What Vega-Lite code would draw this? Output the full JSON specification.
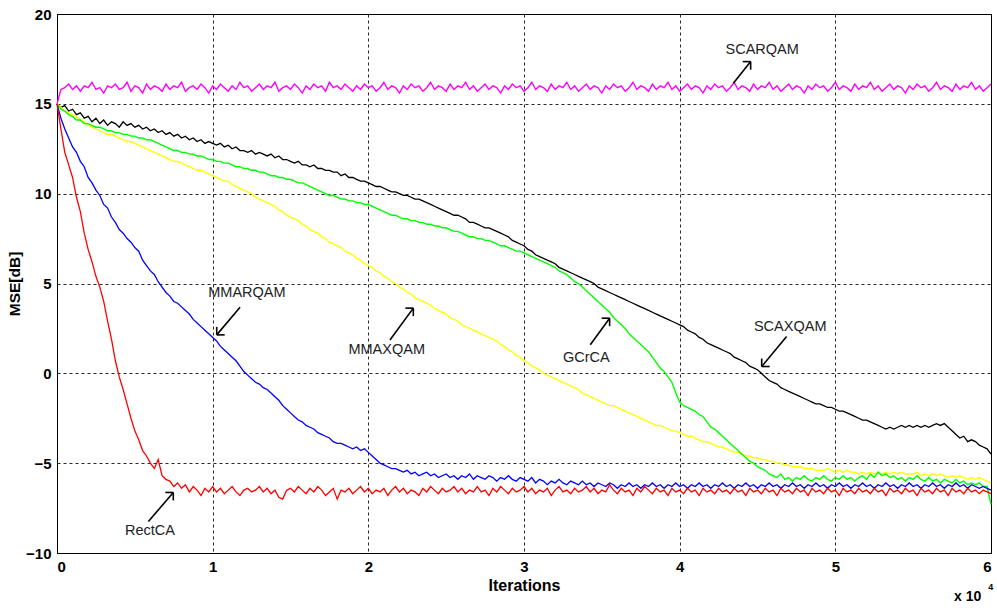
{
  "$schema": "https://vega.github.io/schema/vega-lite/v6.json",
  "width": 934,
  "height": 539,
  "autosize": {"type": "none"},
  "padding": {"left": 57, "top": 14, "right": 6, "bottom": 57},
  "background": "white",
  "config": {
    "font": "Liberation Sans",
    "view": {"stroke": "black", "strokeWidth": 1},
    "axis": {
      "grid": true,
      "gridColor": "#000000",
      "gridDash": [3, 3],
      "gridOpacity": 0.85,
      "gridWidth": 1,
      "domainColor": "#000000",
      "domainWidth": 1,
      "tickSize": 0,
      "labelFont": "Liberation Sans",
      "labelFontSize": 15,
      "labelFontWeight": "bold",
      "labelColor": "#000000",
      "titleFont": "Liberation Sans",
      "titleFontSize": 15.5,
      "titleFontWeight": "bold",
      "titleColor": "#000000"
    }
  },
  "datasets": {
    "curves": [
{"x":0,"m":15.0,"k":15.0,"y":15.0,"g":15.0,"b":15.0,"r":15.0},
{"x":0.025,"m":15.8,"k":14.8,"y":14.8,"g":14.7,"b":14.2,"r":13.6},
{"x":0.05,"m":15.9,"k":14.9,"y":14.6,"g":14.6,"b":13.6,"r":12.3},
{"x":0.075,"m":16.1,"k":14.6,"y":14.5,"g":14.4,"b":13.1,"r":11.6},
{"x":0.1,"m":15.8,"k":14.7,"y":14.4,"g":14.3,"b":12.6,"r":10.9},
{"x":0.125,"m":16.0,"k":14.4,"y":14.3,"g":14.1,"b":12.3,"r":9.8},
{"x":0.15,"m":15.7,"k":14.5,"y":14.1,"g":14.1,"b":11.8,"r":9.0},
{"x":0.175,"m":16.0,"k":14.2,"y":14.0,"g":13.9,"b":11.5,"r":7.8},
{"x":0.2,"m":15.9,"k":14.3,"y":13.8,"g":13.9,"b":10.9,"r":6.9},
{"x":0.225,"m":16.2,"k":14.0,"y":13.7,"g":13.8,"b":10.6,"r":6.2},
{"x":0.25,"m":15.8,"k":14.2,"y":13.6,"g":13.7,"b":10.2,"r":5.4},
{"x":0.275,"m":15.9,"k":13.9,"y":13.5,"g":13.7,"b":9.9,"r":4.8},
{"x":0.3,"m":15.6,"k":14.1,"y":13.4,"g":13.6,"b":9.4,"r":4.0},
{"x":0.325,"m":16.0,"k":13.8,"y":13.3,"g":13.5,"b":9.2,"r":2.9},
{"x":0.35,"m":15.9,"k":14.0,"y":13.3,"g":13.5,"b":8.7,"r":1.9},
{"x":0.375,"m":16.1,"k":13.9,"y":13.2,"g":13.4,"b":8.4,"r":0.7},
{"x":0.4,"m":15.8,"k":13.7,"y":13.1,"g":13.4,"b":8.0,"r":-0.2},
{"x":0.425,"m":15.9,"k":14.0,"y":13.0,"g":13.3,"b":7.8,"r":-0.9},
{"x":0.45,"m":16.2,"k":13.8,"y":12.9,"g":13.3,"b":7.5,"r":-1.7},
{"x":0.475,"m":15.7,"k":13.9,"y":12.9,"g":13.2,"b":7.3,"r":-2.5},
{"x":0.5,"m":16.0,"k":13.7,"y":12.8,"g":13.2,"b":7.0,"r":-3.2},
{"x":0.525,"m":15.9,"k":13.8,"y":12.7,"g":13.1,"b":6.8,"r":-3.7},
{"x":0.55,"m":15.6,"k":13.6,"y":12.6,"g":13.1,"b":6.3,"r":-4.3},
{"x":0.575,"m":16.1,"k":13.7,"y":12.5,"g":13.0,"b":6.0,"r":-4.6},
{"x":0.6,"m":15.8,"k":13.5,"y":12.4,"g":13.0,"b":5.7,"r":-5.0},
{"x":0.625,"m":16.0,"k":13.6,"y":12.3,"g":12.9,"b":5.5,"r":-5.3},
{"x":0.65,"m":15.9,"k":13.4,"y":12.2,"g":12.8,"b":5.1,"r":-4.8},
{"x":0.675,"m":15.7,"k":13.5,"y":12.1,"g":12.7,"b":4.8,"r":-5.7},
{"x":0.7,"m":16.1,"k":13.3,"y":12.0,"g":12.6,"b":4.5,"r":-5.9},
{"x":0.725,"m":15.8,"k":13.4,"y":11.9,"g":12.5,"b":4.3,"r":-6.0},
{"x":0.75,"m":16.0,"k":13.2,"y":11.8,"g":12.4,"b":4.0,"r":-6.3},
{"x":0.775,"m":15.9,"k":13.3,"y":11.8,"g":12.4,"b":3.9,"r":-6.1},
{"x":0.8,"m":16.2,"k":13.1,"y":11.7,"g":12.3,"b":3.7,"r":-6.4},
{"x":0.825,"m":15.7,"k":13.2,"y":11.6,"g":12.3,"b":3.5,"r":-6.2},
{"x":0.85,"m":15.9,"k":13.0,"y":11.5,"g":12.2,"b":3.3,"r":-6.6},
{"x":0.875,"m":16.0,"k":13.1,"y":11.4,"g":12.2,"b":3.0,"r":-6.3},
{"x":0.9,"m":15.8,"k":12.9,"y":11.3,"g":12.1,"b":2.8,"r":-6.5},
{"x":0.925,"m":16.1,"k":13.0,"y":11.3,"g":12.1,"b":2.6,"r":-6.8},
{"x":0.95,"m":15.9,"k":12.8,"y":11.2,"g":12.0,"b":2.4,"r":-6.4},
{"x":0.975,"m":15.6,"k":12.9,"y":11.1,"g":11.9,"b":2.2,"r":-6.6},
{"x":1.0,"m":16.0,"k":12.8,"y":11.0,"g":11.9,"b":2.0,"r":-6.3},
{"x":1.025,"m":15.8,"k":12.7,"y":10.9,"g":11.8,"b":1.8,"r":-6.6},
{"x":1.05,"m":16.1,"k":12.8,"y":10.8,"g":11.8,"b":1.5,"r":-6.4},
{"x":1.075,"m":15.9,"k":12.6,"y":10.7,"g":11.7,"b":1.3,"r":-6.7},
{"x":1.1,"m":15.7,"k":12.7,"y":10.7,"g":11.7,"b":1.1,"r":-6.5},
{"x":1.125,"m":16.0,"k":12.5,"y":10.5,"g":11.6,"b":0.9,"r":-6.3},
{"x":1.15,"m":15.8,"k":12.6,"y":10.4,"g":11.5,"b":0.7,"r":-6.6},
{"x":1.175,"m":16.2,"k":12.4,"y":10.3,"g":11.5,"b":0.4,"r":-6.8},
{"x":1.2,"m":15.9,"k":12.4,"y":10.2,"g":11.4,"b":0.1,"r":-6.5},
{"x":1.225,"m":16.0,"k":12.3,"y":10.1,"g":11.4,"b":-0.1,"r":-6.4},
{"x":1.25,"m":15.7,"k":12.4,"y":10.0,"g":11.3,"b":-0.3,"r":-6.6},
{"x":1.275,"m":15.9,"k":12.2,"y":9.8,"g":11.3,"b":-0.5,"r":-6.5},
{"x":1.3,"m":16.1,"k":12.3,"y":9.7,"g":11.2,"b":-0.6,"r":-6.3},
{"x":1.325,"m":15.8,"k":12.2,"y":9.6,"g":11.2,"b":-0.8,"r":-6.6},
{"x":1.35,"m":16.0,"k":12.1,"y":9.5,"g":11.1,"b":-0.9,"r":-6.4},
{"x":1.375,"m":15.9,"k":12.2,"y":9.4,"g":11.0,"b":-1.1,"r":-6.7},
{"x":1.4,"m":16.2,"k":12.0,"y":9.3,"g":11.0,"b":-1.3,"r":-6.5},
{"x":1.425,"m":15.7,"k":12.1,"y":9.1,"g":10.9,"b":-1.5,"r":-6.9},
{"x":1.45,"m":15.9,"k":11.9,"y":9.0,"g":10.9,"b":-1.8,"r":-7.0},
{"x":1.475,"m":16.0,"k":11.9,"y":8.8,"g":10.8,"b":-2.0,"r":-6.5},
{"x":1.5,"m":15.8,"k":11.8,"y":8.7,"g":10.8,"b":-2.2,"r":-6.4},
{"x":1.525,"m":16.1,"k":11.7,"y":8.6,"g":10.7,"b":-2.4,"r":-6.6},
{"x":1.55,"m":15.9,"k":11.8,"y":8.5,"g":10.6,"b":-2.6,"r":-6.3},
{"x":1.575,"m":15.6,"k":11.6,"y":8.3,"g":10.6,"b":-2.7,"r":-6.5},
{"x":1.6,"m":16.0,"k":11.6,"y":8.2,"g":10.5,"b":-2.9,"r":-6.7},
{"x":1.625,"m":15.8,"k":11.5,"y":8.0,"g":10.4,"b":-3.0,"r":-6.4},
{"x":1.65,"m":16.1,"k":11.6,"y":7.9,"g":10.3,"b":-3.1,"r":-6.6},
{"x":1.675,"m":15.9,"k":11.4,"y":7.8,"g":10.2,"b":-3.3,"r":-6.3},
{"x":1.7,"m":16.0,"k":11.4,"y":7.6,"g":10.1,"b":-3.4,"r":-6.5},
{"x":1.725,"m":15.7,"k":11.3,"y":7.5,"g":10.0,"b":-3.5,"r":-6.8},
{"x":1.75,"m":16.2,"k":11.3,"y":7.3,"g":9.9,"b":-3.6,"r":-6.6},
{"x":1.775,"m":15.9,"k":11.2,"y":7.2,"g":9.9,"b":-3.8,"r":-6.4},
{"x":1.8,"m":16.0,"k":11.2,"y":7.1,"g":9.8,"b":-3.9,"r":-7.0},
{"x":1.825,"m":15.8,"k":11.0,"y":7.0,"g":9.7,"b":-3.9,"r":-6.5},
{"x":1.85,"m":16.1,"k":11.1,"y":6.8,"g":9.7,"b":-4.0,"r":-6.6},
{"x":1.875,"m":15.9,"k":10.9,"y":6.7,"g":9.6,"b":-4.1,"r":-6.4},
{"x":1.9,"m":15.7,"k":10.9,"y":6.6,"g":9.6,"b":-4.2,"r":-6.7},
{"x":1.925,"m":16.0,"k":10.8,"y":6.4,"g":9.5,"b":-4.1,"r":-6.5},
{"x":1.95,"m":15.8,"k":10.7,"y":6.3,"g":9.5,"b":-4.3,"r":-6.3},
{"x":1.975,"m":16.1,"k":10.7,"y":6.1,"g":9.4,"b":-4.2,"r":-6.6},
{"x":2.0,"m":15.9,"k":10.6,"y":6.0,"g":9.4,"b":-4.4,"r":-6.4},
{"x":2.025,"m":16.0,"k":10.5,"y":5.9,"g":9.3,"b":-4.6,"r":-6.7},
{"x":2.05,"m":15.7,"k":10.4,"y":5.7,"g":9.2,"b":-4.8,"r":-6.5},
{"x":2.075,"m":15.9,"k":10.4,"y":5.6,"g":9.1,"b":-5.0,"r":-6.6},
{"x":2.1,"m":16.2,"k":10.3,"y":5.4,"g":9.0,"b":-5.1,"r":-6.4},
{"x":2.125,"m":15.8,"k":10.2,"y":5.3,"g":8.9,"b":-5.2,"r":-6.8},
{"x":2.15,"m":16.0,"k":10.1,"y":5.1,"g":8.8,"b":-5.3,"r":-6.5},
{"x":2.175,"m":15.9,"k":10.1,"y":5.0,"g":8.8,"b":-5.3,"r":-6.3},
{"x":2.2,"m":15.6,"k":10.0,"y":4.8,"g":8.7,"b":-5.4,"r":-6.6},
{"x":2.225,"m":16.0,"k":9.9,"y":4.7,"g":8.6,"b":-5.5,"r":-6.4},
{"x":2.25,"m":15.8,"k":9.9,"y":4.5,"g":8.6,"b":-5.4,"r":-6.7},
{"x":2.275,"m":16.1,"k":9.8,"y":4.4,"g":8.5,"b":-5.6,"r":-6.5},
{"x":2.3,"m":15.9,"k":9.7,"y":4.2,"g":8.5,"b":-5.5,"r":-6.6},
{"x":2.325,"m":16.0,"k":9.7,"y":4.1,"g":8.4,"b":-5.7,"r":-6.8},
{"x":2.35,"m":15.7,"k":9.6,"y":4.0,"g":8.4,"b":-5.6,"r":-6.4},
{"x":2.375,"m":15.9,"k":9.5,"y":3.9,"g":8.3,"b":-5.5,"r":-6.6},
{"x":2.4,"m":16.2,"k":9.4,"y":3.8,"g":8.3,"b":-5.7,"r":-6.3},
{"x":2.425,"m":15.8,"k":9.3,"y":3.6,"g":8.2,"b":-5.6,"r":-6.5},
{"x":2.45,"m":16.0,"k":9.2,"y":3.5,"g":8.2,"b":-5.8,"r":-6.7},
{"x":2.475,"m":15.9,"k":9.1,"y":3.4,"g":8.1,"b":-5.7,"r":-6.4},
{"x":2.5,"m":15.7,"k":9.0,"y":3.3,"g":8.1,"b":-5.6,"r":-6.6},
{"x":2.525,"m":16.1,"k":8.9,"y":3.1,"g":8.0,"b":-5.8,"r":-6.5},
{"x":2.55,"m":15.8,"k":8.8,"y":3.0,"g":7.9,"b":-5.7,"r":-6.3},
{"x":2.575,"m":16.0,"k":8.8,"y":2.9,"g":7.9,"b":-5.9,"r":-6.6},
{"x":2.6,"m":15.9,"k":8.7,"y":2.7,"g":7.8,"b":-5.7,"r":-6.4},
{"x":2.625,"m":16.2,"k":8.6,"y":2.6,"g":7.7,"b":-5.8,"r":-6.7},
{"x":2.65,"m":15.8,"k":8.4,"y":2.5,"g":7.6,"b":-5.6,"r":-6.5},
{"x":2.675,"m":16.0,"k":8.4,"y":2.4,"g":7.6,"b":-5.9,"r":-6.6},
{"x":2.7,"m":15.7,"k":8.3,"y":2.3,"g":7.5,"b":-5.7,"r":-6.3},
{"x":2.725,"m":15.9,"k":8.2,"y":2.2,"g":7.5,"b":-5.8,"r":-6.6},
{"x":2.75,"m":16.1,"k":8.1,"y":2.1,"g":7.4,"b":-5.9,"r":-6.5},
{"x":2.775,"m":15.8,"k":8.1,"y":2.0,"g":7.4,"b":-5.7,"r":-6.8},
{"x":2.8,"m":16.0,"k":8.0,"y":1.9,"g":7.3,"b":-5.8,"r":-6.4},
{"x":2.825,"m":15.9,"k":7.9,"y":1.8,"g":7.2,"b":-6.0,"r":-6.6},
{"x":2.85,"m":15.6,"k":7.8,"y":1.6,"g":7.1,"b":-5.8,"r":-6.3},
{"x":2.875,"m":16.0,"k":7.7,"y":1.5,"g":7.1,"b":-5.9,"r":-6.5},
{"x":2.9,"m":15.8,"k":7.6,"y":1.3,"g":7.0,"b":-5.7,"r":-6.7},
{"x":2.925,"m":16.1,"k":7.4,"y":1.2,"g":6.9,"b":-5.9,"r":-6.4},
{"x":2.95,"m":15.9,"k":7.3,"y":1.0,"g":6.8,"b":-6.0,"r":-6.6},
{"x":2.975,"m":16.0,"k":7.2,"y":0.9,"g":6.8,"b":-5.8,"r":-6.5},
{"x":3.0,"m":15.7,"k":7.1,"y":0.7,"g":6.7,"b":-5.9,"r":-6.3},
{"x":3.025,"m":15.9,"k":6.9,"y":0.6,"g":6.6,"b":-6.0,"r":-6.6},
{"x":3.05,"m":16.2,"k":6.8,"y":0.4,"g":6.5,"b":-5.8,"r":-6.4},
{"x":3.075,"m":15.8,"k":6.6,"y":0.3,"g":6.4,"b":-6.1,"r":-6.7},
{"x":3.1,"m":16.0,"k":6.5,"y":0.2,"g":6.3,"b":-5.9,"r":-6.5},
{"x":3.125,"m":15.9,"k":6.4,"y":0.0,"g":6.2,"b":-6.0,"r":-6.6},
{"x":3.15,"m":15.7,"k":6.3,"y":-0.1,"g":6.1,"b":-6.2,"r":-6.4},
{"x":3.175,"m":16.1,"k":6.2,"y":-0.2,"g":6.0,"b":-6.0,"r":-6.8},
{"x":3.2,"m":15.8,"k":6.1,"y":-0.3,"g":5.9,"b":-6.1,"r":-6.5},
{"x":3.225,"m":16.0,"k":5.9,"y":-0.4,"g":5.7,"b":-5.9,"r":-6.3},
{"x":3.25,"m":15.9,"k":5.8,"y":-0.5,"g":5.6,"b":-6.1,"r":-6.6},
{"x":3.275,"m":16.2,"k":5.7,"y":-0.6,"g":5.5,"b":-6.2,"r":-6.5},
{"x":3.3,"m":15.8,"k":5.6,"y":-0.7,"g":5.3,"b":-6.0,"r":-6.7},
{"x":3.325,"m":16.0,"k":5.5,"y":-0.8,"g":5.1,"b":-6.1,"r":-6.4},
{"x":3.35,"m":15.7,"k":5.4,"y":-0.9,"g":5.0,"b":-6.2,"r":-6.6},
{"x":3.375,"m":15.9,"k":5.3,"y":-1.1,"g":4.8,"b":-6.0,"r":-6.5},
{"x":3.4,"m":16.1,"k":5.2,"y":-1.2,"g":4.6,"b":-6.2,"r":-6.3},
{"x":3.425,"m":15.8,"k":5.1,"y":-1.3,"g":4.4,"b":-6.1,"r":-6.6},
{"x":3.45,"m":16.0,"k":5.0,"y":-1.4,"g":4.2,"b":-6.3,"r":-6.4},
{"x":3.475,"m":15.9,"k":4.8,"y":-1.5,"g":4.0,"b":-6.1,"r":-6.7},
{"x":3.5,"m":15.6,"k":4.7,"y":-1.6,"g":3.8,"b":-6.2,"r":-6.5},
{"x":3.525,"m":16.0,"k":4.6,"y":-1.7,"g":3.6,"b":-6.3,"r":-6.6},
{"x":3.55,"m":15.8,"k":4.5,"y":-1.8,"g":3.4,"b":-6.1,"r":-6.2},
{"x":3.575,"m":16.1,"k":4.4,"y":-1.8,"g":3.1,"b":-6.2,"r":-6.5},
{"x":3.6,"m":15.9,"k":4.3,"y":-1.9,"g":2.9,"b":-6.4,"r":-6.7},
{"x":3.625,"m":16.0,"k":4.2,"y":-2.0,"g":2.7,"b":-6.2,"r":-6.4},
{"x":3.65,"m":15.7,"k":4.1,"y":-2.1,"g":2.5,"b":-6.3,"r":-6.6},
{"x":3.675,"m":15.9,"k":4.0,"y":-2.2,"g":2.2,"b":-6.1,"r":-6.5},
{"x":3.7,"m":16.2,"k":3.9,"y":-2.3,"g":2.0,"b":-6.3,"r":-6.8},
{"x":3.725,"m":15.8,"k":3.8,"y":-2.4,"g":1.8,"b":-6.2,"r":-6.4},
{"x":3.75,"m":16.0,"k":3.7,"y":-2.5,"g":1.6,"b":-6.4,"r":-6.6},
{"x":3.775,"m":15.9,"k":3.6,"y":-2.6,"g":1.4,"b":-6.2,"r":-6.3},
{"x":3.8,"m":15.7,"k":3.5,"y":-2.7,"g":1.2,"b":-6.3,"r":-6.5},
{"x":3.825,"m":16.1,"k":3.4,"y":-2.8,"g":0.9,"b":-6.1,"r":-6.7},
{"x":3.85,"m":15.8,"k":3.3,"y":-2.9,"g":0.6,"b":-6.3,"r":-6.4},
{"x":3.875,"m":16.0,"k":3.2,"y":-2.9,"g":0.3,"b":-6.2,"r":-6.6},
{"x":3.9,"m":15.9,"k":3.1,"y":-3.0,"g":0.1,"b":-6.4,"r":-6.5},
{"x":3.925,"m":16.2,"k":3.0,"y":-3.1,"g":-0.2,"b":-6.2,"r":-6.8},
{"x":3.95,"m":15.8,"k":2.9,"y":-3.2,"g":-0.5,"b":-6.3,"r":-6.4},
{"x":3.975,"m":16.0,"k":2.8,"y":-3.2,"g":-1.1,"b":-6.1,"r":-6.6},
{"x":4.0,"m":15.7,"k":2.7,"y":-3.3,"g":-1.6,"b":-6.3,"r":-6.5},
{"x":4.025,"m":15.9,"k":2.6,"y":-3.4,"g":-1.8,"b":-6.2,"r":-6.7},
{"x":4.05,"m":16.1,"k":2.4,"y":-3.5,"g":-1.9,"b":-6.4,"r":-6.4},
{"x":4.075,"m":15.8,"k":2.3,"y":-3.5,"g":-2.0,"b":-6.2,"r":-6.6},
{"x":4.1,"m":16.0,"k":2.2,"y":-3.6,"g":-2.1,"b":-6.3,"r":-6.5},
{"x":4.125,"m":15.9,"k":2.0,"y":-3.7,"g":-2.3,"b":-6.1,"r":-6.8},
{"x":4.15,"m":15.6,"k":1.9,"y":-3.8,"g":-2.4,"b":-6.3,"r":-6.4},
{"x":4.175,"m":16.0,"k":1.7,"y":-3.8,"g":-2.7,"b":-6.2,"r":-6.6},
{"x":4.2,"m":15.8,"k":1.6,"y":-3.9,"g":-3.0,"b":-6.4,"r":-6.5},
{"x":4.225,"m":16.1,"k":1.5,"y":-4.0,"g":-3.1,"b":-6.2,"r":-6.7},
{"x":4.25,"m":15.9,"k":1.4,"y":-4.1,"g":-3.3,"b":-6.3,"r":-6.4},
{"x":4.275,"m":16.0,"k":1.3,"y":-4.1,"g":-3.5,"b":-6.1,"r":-6.6},
{"x":4.3,"m":15.7,"k":1.2,"y":-4.2,"g":-3.7,"b":-6.3,"r":-6.5},
{"x":4.325,"m":15.9,"k":1.1,"y":-4.3,"g":-3.9,"b":-6.2,"r":-6.7},
{"x":4.35,"m":16.2,"k":0.9,"y":-4.4,"g":-4.1,"b":-6.4,"r":-6.4},
{"x":4.375,"m":15.8,"k":0.8,"y":-4.4,"g":-4.3,"b":-6.2,"r":-6.6},
{"x":4.4,"m":16.0,"k":0.7,"y":-4.5,"g":-4.5,"b":-6.3,"r":-6.5},
{"x":4.425,"m":15.9,"k":0.6,"y":-4.6,"g":-4.7,"b":-6.1,"r":-6.8},
{"x":4.45,"m":15.7,"k":0.4,"y":-4.6,"g":-4.9,"b":-6.3,"r":-6.4},
{"x":4.475,"m":16.1,"k":0.3,"y":-4.7,"g":-5.0,"b":-6.2,"r":-6.6},
{"x":4.5,"m":15.8,"k":0.2,"y":-4.7,"g":-5.2,"b":-6.4,"r":-6.5},
{"x":4.525,"m":16.0,"k":0.0,"y":-4.8,"g":-5.3,"b":-6.2,"r":-6.7},
{"x":4.55,"m":15.9,"k":-0.2,"y":-4.8,"g":-5.4,"b":-6.3,"r":-6.4},
{"x":4.575,"m":16.2,"k":-0.4,"y":-4.9,"g":-5.6,"b":-6.1,"r":-6.6},
{"x":4.6,"m":15.8,"k":-0.5,"y":-4.9,"g":-5.7,"b":-6.3,"r":-6.5},
{"x":4.625,"m":16.0,"k":-0.6,"y":-5.0,"g":-5.8,"b":-6.2,"r":-6.8},
{"x":4.65,"m":15.7,"k":-0.8,"y":-5.0,"g":-5.6,"b":-6.4,"r":-6.4},
{"x":4.675,"m":15.9,"k":-0.9,"y":-5.1,"g":-5.9,"b":-6.2,"r":-6.6},
{"x":4.7,"m":16.1,"k":-1.0,"y":-5.1,"g":-5.8,"b":-6.3,"r":-6.5},
{"x":4.725,"m":15.8,"k":-1.1,"y":-5.2,"g":-6.0,"b":-6.1,"r":-6.7},
{"x":4.75,"m":16.0,"k":-1.2,"y":-5.2,"g":-5.8,"b":-6.3,"r":-6.4},
{"x":4.775,"m":15.9,"k":-1.3,"y":-5.2,"g":-5.9,"b":-6.2,"r":-6.6},
{"x":4.8,"m":15.6,"k":-1.4,"y":-5.3,"g":-5.7,"b":-6.4,"r":-6.5},
{"x":4.825,"m":16.0,"k":-1.5,"y":-5.3,"g":-5.9,"b":-6.2,"r":-6.8},
{"x":4.85,"m":15.8,"k":-1.6,"y":-5.3,"g":-6.0,"b":-6.3,"r":-6.4},
{"x":4.875,"m":16.1,"k":-1.7,"y":-5.4,"g":-5.8,"b":-6.1,"r":-6.6},
{"x":4.9,"m":15.9,"k":-1.7,"y":-5.4,"g":-5.9,"b":-6.3,"r":-6.5},
{"x":4.925,"m":16.0,"k":-1.8,"y":-5.4,"g":-5.7,"b":-6.2,"r":-6.7},
{"x":4.95,"m":15.7,"k":-1.9,"y":-5.3,"g":-5.9,"b":-6.4,"r":-6.4},
{"x":4.975,"m":15.9,"k":-1.9,"y":-5.4,"g":-6.0,"b":-6.2,"r":-6.6},
{"x":5.0,"m":16.2,"k":-2.0,"y":-5.5,"g":-5.8,"b":-6.3,"r":-6.5},
{"x":5.025,"m":15.8,"k":-2.1,"y":-5.4,"g":-5.9,"b":-6.1,"r":-6.8},
{"x":5.05,"m":16.0,"k":-2.1,"y":-5.5,"g":-5.7,"b":-6.3,"r":-6.4},
{"x":5.075,"m":15.9,"k":-2.2,"y":-5.4,"g":-5.9,"b":-6.2,"r":-6.6},
{"x":5.1,"m":15.7,"k":-2.3,"y":-5.5,"g":-5.8,"b":-6.4,"r":-6.5},
{"x":5.125,"m":16.1,"k":-2.4,"y":-5.5,"g":-6.0,"b":-6.2,"r":-6.7},
{"x":5.15,"m":15.8,"k":-2.5,"y":-5.6,"g":-5.8,"b":-6.3,"r":-6.4},
{"x":5.175,"m":16.0,"k":-2.6,"y":-5.5,"g":-5.7,"b":-6.1,"r":-6.6},
{"x":5.2,"m":15.9,"k":-2.6,"y":-5.6,"g":-5.9,"b":-6.3,"r":-6.5},
{"x":5.225,"m":16.2,"k":-2.7,"y":-5.5,"g":-5.6,"b":-6.2,"r":-6.7},
{"x":5.25,"m":15.8,"k":-2.8,"y":-5.6,"g":-5.8,"b":-6.4,"r":-6.4},
{"x":5.275,"m":16.0,"k":-2.9,"y":-5.5,"g":-5.5,"b":-6.2,"r":-6.6},
{"x":5.3,"m":15.7,"k":-3.0,"y":-5.6,"g":-5.7,"b":-6.3,"r":-6.5},
{"x":5.325,"m":15.9,"k":-3.1,"y":-5.5,"g":-5.6,"b":-6.1,"r":-6.8},
{"x":5.35,"m":16.1,"k":-3.0,"y":-5.6,"g":-5.8,"b":-6.3,"r":-6.4},
{"x":5.375,"m":15.8,"k":-3.1,"y":-5.5,"g":-5.7,"b":-6.2,"r":-6.6},
{"x":5.4,"m":16.0,"k":-3.0,"y":-5.6,"g":-5.9,"b":-6.4,"r":-6.5},
{"x":5.425,"m":15.9,"k":-2.9,"y":-5.5,"g":-5.8,"b":-6.2,"r":-6.7},
{"x":5.45,"m":15.6,"k":-3.0,"y":-5.6,"g":-6.0,"b":-6.3,"r":-6.4},
{"x":5.475,"m":16.0,"k":-2.9,"y":-5.6,"g":-5.8,"b":-6.1,"r":-6.6},
{"x":5.5,"m":15.8,"k":-3.0,"y":-5.6,"g":-5.9,"b":-6.3,"r":-6.5},
{"x":5.525,"m":16.1,"k":-2.9,"y":-5.5,"g":-5.7,"b":-6.2,"r":-6.8},
{"x":5.55,"m":15.9,"k":-3.0,"y":-5.7,"g":-5.9,"b":-6.4,"r":-6.4},
{"x":5.575,"m":16.0,"k":-2.9,"y":-5.6,"g":-6.0,"b":-6.2,"r":-6.6},
{"x":5.6,"m":15.7,"k":-3.0,"y":-5.7,"g":-5.8,"b":-6.3,"r":-6.5},
{"x":5.625,"m":15.9,"k":-2.9,"y":-5.6,"g":-6.0,"b":-6.1,"r":-6.7},
{"x":5.65,"m":16.2,"k":-2.8,"y":-5.7,"g":-5.9,"b":-6.3,"r":-6.4},
{"x":5.675,"m":15.8,"k":-2.9,"y":-5.6,"g":-6.1,"b":-6.2,"r":-6.6},
{"x":5.7,"m":16.0,"k":-2.8,"y":-5.7,"g":-5.9,"b":-6.4,"r":-6.5},
{"x":5.725,"m":15.9,"k":-3.0,"y":-5.8,"g":-6.0,"b":-6.2,"r":-6.8},
{"x":5.75,"m":15.7,"k":-3.2,"y":-5.7,"g":-6.1,"b":-6.3,"r":-6.4},
{"x":5.775,"m":16.1,"k":-3.4,"y":-5.8,"g":-5.9,"b":-6.1,"r":-6.6},
{"x":5.8,"m":15.8,"k":-3.6,"y":-5.7,"g":-6.1,"b":-6.3,"r":-6.5},
{"x":5.825,"m":16.0,"k":-3.5,"y":-5.8,"g":-6.0,"b":-6.2,"r":-6.7},
{"x":5.85,"m":15.9,"k":-3.8,"y":-5.9,"g":-6.2,"b":-6.4,"r":-6.4},
{"x":5.875,"m":16.2,"k":-3.7,"y":-5.8,"g":-6.1,"b":-6.2,"r":-6.6},
{"x":5.9,"m":15.8,"k":-3.8,"y":-5.9,"g":-6.2,"b":-6.3,"r":-6.5},
{"x":5.925,"m":16.0,"k":-4.0,"y":-5.8,"g":-6.1,"b":-6.4,"r":-6.7},
{"x":5.95,"m":15.7,"k":-4.1,"y":-5.9,"g":-6.3,"b":-6.3,"r":-6.5},
{"x":5.975,"m":15.9,"k":-4.2,"y":-6.0,"g":-6.3,"b":-6.4,"r":-6.6},
{"x":6.0,"m":16.1,"k":-4.5,"y":-6.1,"g":-7.3,"b":-6.5,"r":-6.7}
    ],
    "arrows": [
      {"x":4.345,"y":16.15,"x2":4.456,"y2":17.35},
      {"x":4.405,"y":17.35,"x2":4.456,"y2":17.35},
      {"x":4.456,"y":16.9,"x2":4.456,"y2":17.35},
      {"x":1.176,"y":3.68,"x2":1.026,"y2":2.14},
      {"x":1.077,"y":2.14,"x2":1.026,"y2":2.14},
      {"x":1.026,"y":2.585,"x2":1.026,"y2":2.14},
      {"x":2.139,"y":1.86,"x2":2.289,"y2":3.63},
      {"x":2.238,"y":3.63,"x2":2.289,"y2":3.63},
      {"x":2.289,"y":3.185,"x2":2.289,"y2":3.63},
      {"x":3.426,"y":1.59,"x2":3.55,"y2":3.07},
      {"x":3.499,"y":3.07,"x2":3.55,"y2":3.07},
      {"x":3.55,"y":2.625,"x2":3.55,"y2":3.07},
      {"x":4.687,"y":2.05,"x2":4.527,"y2":0.38},
      {"x":4.578,"y":0.38,"x2":4.527,"y2":0.38},
      {"x":4.527,"y":0.825,"x2":4.527,"y2":0.38},
      {"x":0.587,"y":-8.25,"x2":0.747,"y2":-6.63},
      {"x":0.696,"y":-6.63,"x2":0.747,"y2":-6.63},
      {"x":0.747,"y":-7.075,"x2":0.747,"y2":-6.63}
    ],
    "labels": [
      {"x":4.53,"y":18.0,"label":"SCARQAM"},
      {"x":1.22,"y":4.46,"label":"MMARQAM"},
      {"x":2.118,"y":1.31,"label":"MMAXQAM"},
      {"x":3.40,"y":0.85,"label":"GCrCA"},
      {"x":4.71,"y":2.6,"label":"SCAXQAM"},
      {"x":0.597,"y":-8.8,"label":"RectCA"}
    ],
    "exponent": [
      {"x":5.85,"y":-12.45,"label":"x 10","size":14},
      {"x":5.998,"y":-11.9,"label":"4","size":9}
    ]
  },
  "encoding": {
    "x": {
      "field": "x",
      "type": "quantitative",
      "scale": {"domain": [0, 6], "nice": false, "zero": false},
      "axis": {"title": "Iterations", "values": [0, 1, 2, 3, 4, 5, 6], "format": "d", "labelPadding": 6, "titlePadding": 3, "titleFontSize": 16}
    }
  },
  "layer": [
    {
      "data": {"name": "curves"},
      "mark": {"type": "line", "color": "#ff00ff", "strokeWidth": 1.4},
      "encoding": {"y": {"field": "m", "type": "quantitative", "scale": {"domain": [-10, 20], "nice": false, "zero": false}, "axis": {"title": "MSE[dB]", "values": [-10, -5, 0, 5, 10, 15, 20], "labelPadding": 6, "titlePadding": 3}}}
    },
    {
      "data": {"name": "curves"},
      "mark": {"type": "line", "color": "#000000", "strokeWidth": 1.3},
      "encoding": {"y": {"field": "k", "type": "quantitative", "scale": {"domain": [-10, 20], "nice": false, "zero": false}, "axis": {"title": "MSE[dB]", "values": [-10, -5, 0, 5, 10, 15, 20], "labelPadding": 6, "titlePadding": 3}}}
    },
    {
      "data": {"name": "curves"},
      "mark": {"type": "line", "color": "#ffff00", "strokeWidth": 1.4},
      "encoding": {"y": {"field": "y", "type": "quantitative", "scale": {"domain": [-10, 20], "nice": false, "zero": false}, "axis": {"title": "MSE[dB]", "values": [-10, -5, 0, 5, 10, 15, 20], "labelPadding": 6, "titlePadding": 3}}}
    },
    {
      "data": {"name": "curves"},
      "mark": {"type": "line", "color": "#00ff00", "strokeWidth": 1.4},
      "encoding": {"y": {"field": "g", "type": "quantitative", "scale": {"domain": [-10, 20], "nice": false, "zero": false}, "axis": {"title": "MSE[dB]", "values": [-10, -5, 0, 5, 10, 15, 20], "labelPadding": 6, "titlePadding": 3}}}
    },
    {
      "data": {"name": "curves"},
      "mark": {"type": "line", "color": "#0000ff", "strokeWidth": 1.3},
      "encoding": {"y": {"field": "b", "type": "quantitative", "scale": {"domain": [-10, 20], "nice": false, "zero": false}, "axis": {"title": "MSE[dB]", "values": [-10, -5, 0, 5, 10, 15, 20], "labelPadding": 6, "titlePadding": 3}}}
    },
    {
      "data": {"name": "curves"},
      "mark": {"type": "line", "color": "#ff0000", "strokeWidth": 1.3},
      "encoding": {"y": {"field": "r", "type": "quantitative", "scale": {"domain": [-10, 20], "nice": false, "zero": false}, "axis": {"title": "MSE[dB]", "values": [-10, -5, 0, 5, 10, 15, 20], "labelPadding": 6, "titlePadding": 3}}}
    },
    {
      "data": {"name": "arrows"},
      "mark": {"type": "rule", "color": "#000000", "strokeWidth": 1.6},
      "encoding": {
        "y": {"field": "y", "type": "quantitative", "scale": {"domain": [-10, 20], "nice": false, "zero": false}, "axis": {"title": "MSE[dB]", "values": [-10, -5, 0, 5, 10, 15, 20], "labelPadding": 6, "titlePadding": 3}},
        "x2": {"field": "x2"},
        "y2": {"field": "y2"}
      }
    },
    {
      "data": {"name": "labels"},
      "mark": {"type": "text", "font": "Liberation Sans", "fontSize": 14.5, "color": "#222222", "align": "center", "baseline": "middle"},
      "encoding": {
        "y": {"field": "y", "type": "quantitative", "scale": {"domain": [-10, 20], "nice": false, "zero": false}, "axis": {"title": "MSE[dB]", "values": [-10, -5, 0, 5, 10, 15, 20], "labelPadding": 6, "titlePadding": 3}},
        "text": {"field": "label"}
      }
    },
    {
      "data": {"name": "exponent"},
      "mark": {"type": "text", "font": "Liberation Sans", "fontWeight": "bold", "color": "#000000", "align": "center", "baseline": "middle"},
      "encoding": {
        "y": {"field": "y", "type": "quantitative", "scale": {"domain": [-10, 20], "nice": false, "zero": false}, "axis": {"title": "MSE[dB]", "values": [-10, -5, 0, 5, 10, 15, 20], "labelPadding": 6, "titlePadding": 3}},
        "text": {"field": "label"},
        "size": {"field": "size", "type": "quantitative", "scale": null}
      }
    }
  ]
}
